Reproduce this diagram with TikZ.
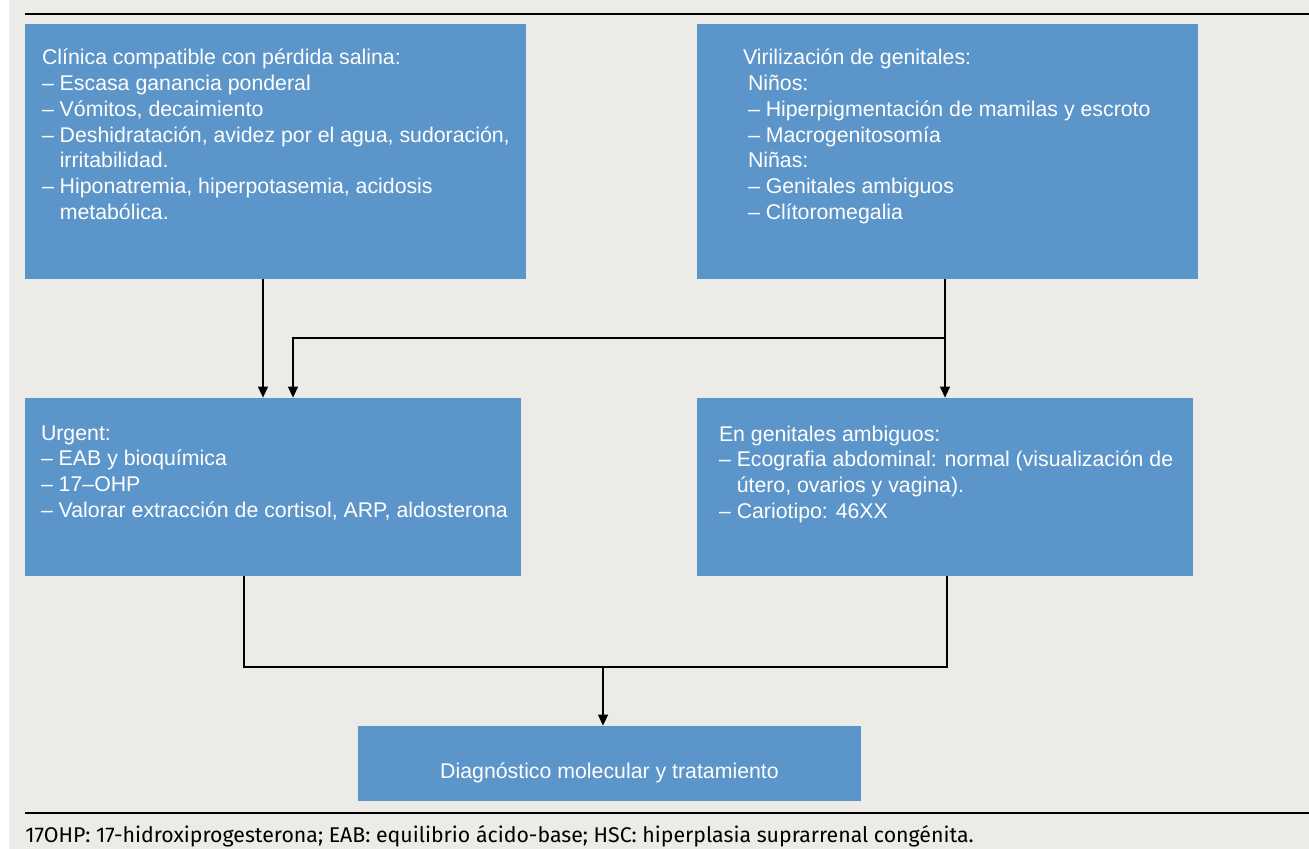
\documentclass[tikz,border=0pt]{standalone}
\usepackage{fontspec}
\setmainfont{Liberation Sans}
\newfontfamily\notefont{Fira Sans}
\usetikzlibrary{arrows.meta}
\definecolor{boxblue}{RGB}{92,149,201}
\definecolor{panelgrey}{RGB}{237,235,231}
\newcommand{\boxstrut}{\rule{0pt}{10.5pt}}
\newcommand{\cont}{\phantom{– }}
\begin{document}
\begin{tikzpicture}[x=0.5pt, y=-0.5pt,
                    box/.style = {fill=boxblue, inner sep=0pt},
                    txt/.style = {text=white, align=left, inner sep=0pt,
                    anchor=north west,
                    font=\fontsize{10.65}{12.85}\selectfont},
                    link/.style = {draw, line width=0.65pt},
                    arr/.style = {link, -{Triangle[width=5pt,length=5.5pt]}}]
  \useasboundingbox (0,0) rectangle (1309,849);
  \fill[panelgrey] (9,0) rectangle (1309,849);
  \draw[line width=1pt] (25,14.5) -- (1309,14.5);
  \draw[line width=1pt] (25,812.5) -- (1309,812.5);

  \node[box, minimum width=250.5pt, minimum height=127.5pt] (clinica) at (275.5,151.5) {};
  \node[txt] (clinicatxt) at ([xshift=8.5pt,yshift=-10pt]clinica.north west)
    {\boxstrut Clínica compatible con pérdida salina:\\
     – Escasa ganancia ponderal\\
     – Vómitos, decaimiento\\
     – Deshidratación, avidez por el agua, sudoración,\\
     \cont irritabilidad.\\
     – Hiponatremia, hiperpotasemia, acidosis\\
     \cont metabólica.};

  \node[box, minimum width=250.5pt, minimum height=127.5pt] (viril) at (947.5,151.5) {};
  \node[txt] (viriltxt) at ([xshift=23pt,yshift=-10pt]viril.north west)
    {\boxstrut Virilización de genitales:\\
     \hspace*{2.5pt}Niños:\\
     \hspace*{2.5pt}– Hiperpigmentación de mamilas y escroto\\
     \hspace*{2.5pt}– Macrogenitosomía\\
     \hspace*{2.5pt}Niñas:\\
     \hspace*{2.5pt}– Genitales ambiguos\\
     \hspace*{2.5pt}– Clítoromegalia};

  \node[box, minimum width=248pt, minimum height=89pt] (urgent) at (273,487) {};
  \node[txt] (urgenttxt) at ([xshift=8pt,yshift=-10.5pt]urgent.north west)
    {\boxstrut Urgent:\\
     – EAB y bioquímica\\
     – 17–OHP\\
     – Valorar extracción de cortisol, ARP, aldosterona};

  \node[box, minimum width=248pt, minimum height=89pt] (ambig) at (945,487) {};
  \node[txt] (ambigtxt) at ([xshift=11pt,yshift=-11pt]ambig.north west)
    {\boxstrut En genitales ambiguos:\\
     – Ecografia abdominal: normal (visualización de\\
     \cont útero, ovarios y vagina).\\
     – Cariotipo: 46XX};

  \node[box, minimum width=251.5pt, minimum height=37.5pt] (diag) at (609.5,763.5) {};
  \node[txt, anchor=base] (diagtxt) at ([yshift=-7.25pt]diag.center)
    {Diagnóstico molecular y tratamiento};

  \draw[arr] ([xshift=-6.25pt]clinica.south) -- ([xshift=-6.25pt]clinica.south |- urgent.north);
  \draw[arr] (ambig.north |- viril.south) -- (ambig.north);
  \coordinate (split) at (ambig.north |- 0,338);
  \draw[arr] (split) -| ([xshift=10pt]urgent.north);
  \coordinate (merge) at ([xshift=-3.25pt]diag.north |- 0,667);
  \draw[link] ([xshift=-14.5pt]urgent.south) |- (merge) -| ([xshift=1pt]ambig.south);
  \draw[arr] (merge) -- (merge |- diag.north);

  \node[anchor=base west, inner sep=0pt, font=\notefont\fontsize{10.65}{12}\selectfont]
    (note) at (25,842)
    {17OHP: 17-hidroxiprogesterona; EAB: equilibrio ácido-base; HSC: hiperplasia suprarrenal congénita.};
\end{tikzpicture}
\end{document}
